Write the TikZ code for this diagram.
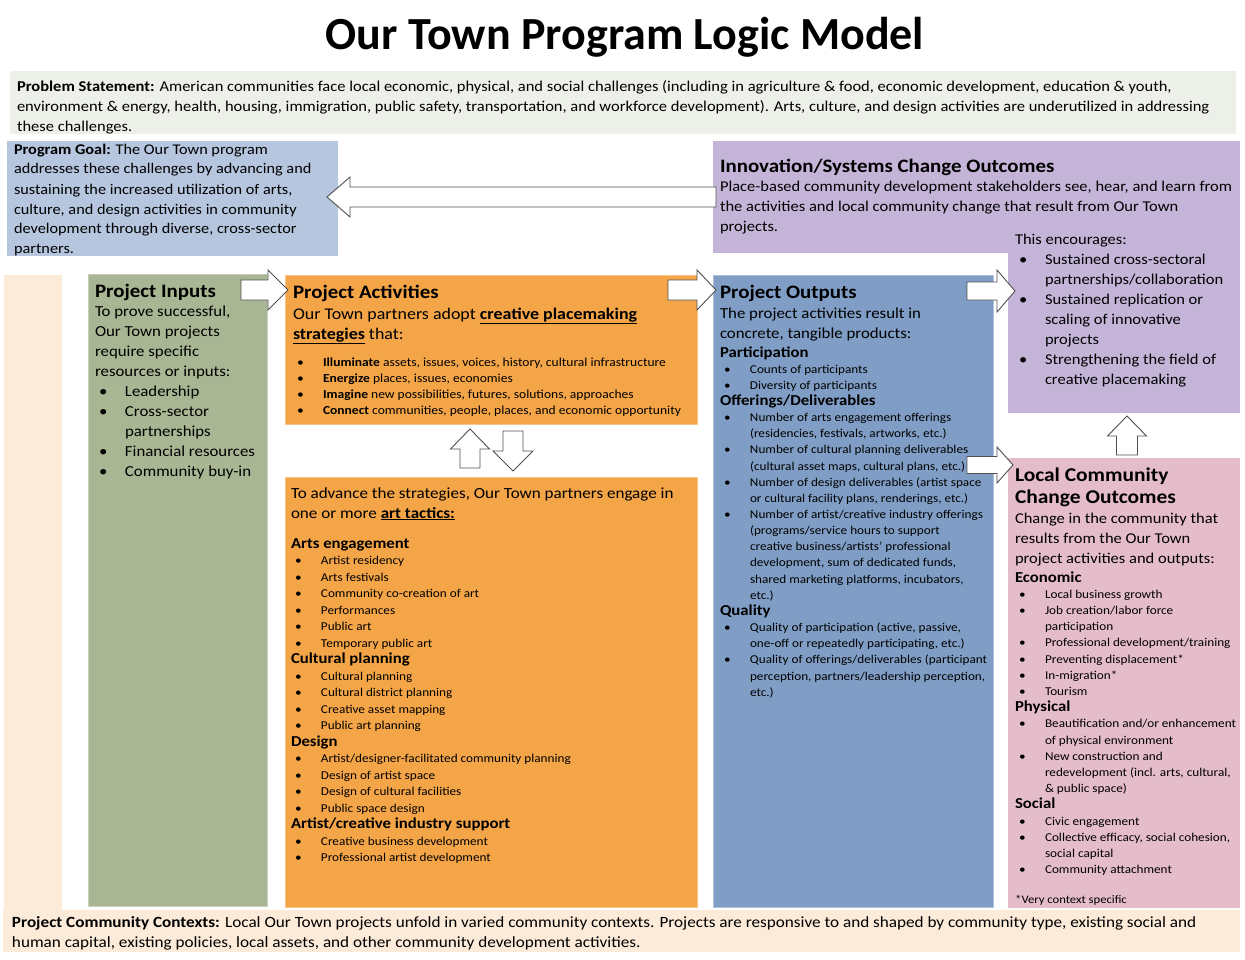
\documentclass[tikz,border=0pt]{standalone}
\usepackage{fontspec}
\setmainfont{Carlito}[FakeStretch=1.1]
\newfontfamily\titlefont{Carlito}
\definecolor{probbg}{HTML}{EDEFE9}
\definecolor{goalbg}{HTML}{B5C6DE}
\definecolor{purp}{HTML}{C4B5D8}
\definecolor{peach}{HTML}{FCEBD9}
\definecolor{sage}{HTML}{A8B693}
\definecolor{orng}{HTML}{F4A548}
\definecolor{bluebx}{HTML}{809EC5}
\definecolor{pinkbx}{HTML}{E5BCCA}
\definecolor{arrowgray}{HTML}{505050}
\newcommand{\bl}{\makebox[30pt][l]{\hspace{4pt}\textbullet}}
\newcommand{\ct}{\hspace*{30pt}}
\newcommand{\fbody}{\fontsize{15}{20}\selectfont}
\newcommand{\fhead}{\fontsize{19}{22}\selectfont\bfseries}
\newcommand{\subh}[1]{{\fontsize{15.2}{16}\selectfont\bfseries #1}}
\newcommand{\harrow}[6]{\draw[blockarrow] (#1,#4-#5) -- (#3,#4-#5) -- (#3,#4-#6) -- (#2,#4) -- (#3,#4+#6) -- (#3,#4+#5) -- (#1,#4+#5) -- cycle;}
\newcommand{\varrow}[6]{\draw[blockarrow] (#1-#5,#2) -- (#1-#5,#4) -- (#1-#6,#4) -- (#1,#3) -- (#1+#6,#4) -- (#1+#5,#4) -- (#1+#5,#2) -- cycle;}
\tikzset{
  box/.style={anchor=north west, inner sep=0pt, outer sep=0pt, draw=none},
  edged/.style={draw=#1!65!white, line width=0.8pt},
  txt/.style={anchor=north west, inner sep=0pt, outer sep=0pt, align=left},
  head/.style={anchor=base west, inner sep=0pt, outer sep=0pt, font=\fhead},
  blockarrow/.style={draw=arrowgray, fill=white, line width=0.9pt, line join=miter},
}
\begin{document}
\begin{tikzpicture}[x=1pt,y=-1pt]
\fill[white] (0,0) rectangle (1245,960);
\useasboundingbox (0,0) rectangle (1245,960);

% title
\node[anchor=base, inner sep=0pt, font=\titlefont\fontsize{46}{50}\selectfont\bfseries] (title) at (625,50) {Our Town Program Logic Model};

% boxes
\node[box, fill=probbg, minimum width=1226pt, minimum height=63pt] (prob) at (10,71) {};
\node[box, fill=goalbg, minimum width=331pt, minimum height=115pt] (goal) at (7,141) {};
\node[box, fill=purp, minimum width=527pt, minimum height=112pt] (innov) at (713,141) {};
\node[box, fill=purp, minimum width=232pt, minimum height=188pt] (innov2) at (1008,225) {};
\node[box, fill=peach, minimum width=58pt, minimum height=636pt] (ctxstrip) at (4,275) {};
\node[box, fill=peach, minimum width=1237pt, minimum height=42pt] (ctx) at (3,910) {};
\node[box, fill=sage, edged=sage, minimum width=179pt, minimum height=632pt] (inputs) at (88,274) {};
\node[box, fill=orng, edged=orng, minimum width=412pt, minimum height=149pt] (activ) at (285,275) {};
\node[box, fill=orng, edged=orng, minimum width=412pt, minimum height=430pt] (tactics) at (285,477) {};
\node[box, fill=bluebx, edged=bluebx, minimum width=280pt, minimum height=632pt] (outputs) at (713,275) {};
\node[box, fill=pinkbx, minimum width=232pt, minimum height=450pt] (local) at (1008,458) {};

% arrows
\harrow{716}{327}{350}{197}{10}{20}
\harrow{241}{288}{268}{290}{10}{20}
\harrow{668}{716}{697}{290}{10}{20}
\harrow{967}{1015}{997}{291}{9}{21}
\harrow{967}{1013}{997}{465}{8.5}{18}
\varrow{1127}{455}{416}{436}{10.5}{19.5}
\varrow{470}{468}{429}{449}{10}{19.5}
\varrow{513}{431}{471}{451}{10}{20}

% problem statement
\node[txt, font=\fbody] (probT) at (17,78) {\strut\textbf{Problem Statement:} American communities face local economic, physical, and social challenges (including in agriculture \& food, economic development, education \& youth,\\ environment \& energy, health, housing, immigration, public safety, transportation, and workforce development). Arts, culture, and design activities are underutilized in addressing\\ these challenges.};

% program goal
\node[txt, font=\fontsize{14.8}{20}\selectfont] (goalT) at (14,140) {\strut\textbf{Program Goal:} The Our Town program\\ addresses these challenges by advancing and\\ sustaining the increased utilization of arts,\\ culture, and design activities in community\\ development through diverse, cross-sector\\ partners.};

% innovation
\node[head] (innovH) at (720,173) {Innovation/Systems Change Outcomes};
\node[txt, font=\fbody] (innovT) at (720,178) {\strut Place-based community development stakeholders see, hear, and learn from\\ the activities and local community change that result from Our Town\\ projects.};
\node[txt, font=\fbody] (encT) at (1015,230) {\strut This encourages:\\ \bl Sustained cross-sectoral\\ \ct partnerships/collaboration\\ \bl Sustained replication or\\ \ct scaling of innovative\\ \ct projects\\ \bl Strengthening the field of\\ \ct creative placemaking};

% inputs
\node[head] (inputsH) at (95,297) {Project Inputs};
\node[txt, font=\fontsize{15.3}{20}\selectfont] (inputsT) at (95,302) {\strut To prove successful,\\ Our Town projects\\ require specific\\ resources or inputs:\\ \bl Leadership\\ \bl Cross-sector\\ \ct partnerships\\ \bl Financial resources\\ \bl Community buy-in};

% activities
\node[head] (activH) at (293,298) {Project Activities};
\node[txt, font=\fontsize{16.3}{20}\selectfont] (activT) at (293,305) {\strut Our Town partners adopt \underline{\textbf{creative placemaking}}\\ \underline{\textbf{strategies}} that:};
\node[txt, font=\fontsize{12.3}{16}\selectfont] (activL) at (293,354.8) {\strut\bl\textbf{Illuminate} assets, issues, voices, history, cultural infrastructure\\ \bl\textbf{Energize} places, issues, economies\\ \bl\textbf{Imagine} new possibilities, futures, solutions, approaches\\ \bl\textbf{Connect} communities, people, places, and economic opportunity};

% tactics
\node[txt, font=\fontsize{15.5}{20}\selectfont] (tactT) at (291,484) {\strut To advance the strategies, Our Town partners engage in\\ one or more \underline{\textbf{art tactics:}}};
\node[txt, font=\fontsize{12}{16.5}\selectfont] (tactL) at (291,536.45) {\strut\subh{Arts engagement}\\ \bl Artist residency\\ \bl Arts festivals\\ \bl Community co-creation of art\\ \bl Performances\\ \bl Public art\\ \bl Temporary public art\\ \subh{Cultural planning}\\ \bl Cultural planning\\ \bl Cultural district planning\\ \bl Creative asset mapping\\ \bl Public art planning\\ \subh{Design}\\ \bl Artist/designer-facilitated community planning\\ \bl Design of artist space\\ \bl Design of cultural facilities\\ \bl Public space design\\ \subh{Artist/creative industry support}\\ \bl Creative business development\\ \bl Professional artist development};

% outputs
\node[head] (outH) at (720,298) {Project Outputs};
\node[txt, font=\fontsize{15.3}{20}\selectfont] (outT) at (720,304) {\strut The project activities result in\\ concrete, tangible products:};
\node[txt, font=\fontsize{12}{16.15}\selectfont] (outL) at (720,345.7) {\strut\subh{Participation}\\ \bl Counts of participants\\ \bl Diversity of participants\\ \subh{Offerings/Deliverables}\\ \bl Number of arts engagement offerings\\ \ct (residencies, festivals, artworks, etc.)\\ \bl Number of cultural planning deliverables\\ \ct (cultural asset maps, cultural plans, etc.)\\ \bl Number of design deliverables (artist space\\ \ct or cultural facility plans, renderings, etc.)\\ \bl Number of artist/creative industry offerings\\ \ct (programs/service hours to support\\ \ct creative business/artists' professional\\ \ct development, sum of dedicated funds,\\ \ct shared marketing platforms, incubators,\\ \ct etc.)\\ \subh{Quality}\\ \bl Quality of participation (active, passive,\\ \ct one-off or repeatedly participating, etc.)\\ \bl Quality of offerings/deliverables (participant\\ \ct perception, partners/leadership perception,\\ \ct etc.)};

% local community
\node[txt, font=\fontsize{19.5}{22}\selectfont\bfseries] (localH) at (1015,465.6) {\strut Local Community\\ Change Outcomes};
\node[txt, font=\fbody] (localT) at (1015,509) {\strut Change in the community that\\ results from the Our Town\\ project activities and outputs:};
\node[txt, font=\fontsize{12}{16.2}\selectfont] (localL) at (1015,570.66) {\strut\subh{Economic}\\ \bl Local business growth\\ \bl Job creation/labor force\\ \ct participation\\ \bl Professional development/training\\ \bl Preventing displacement*\\ \bl In-migration*\\ \bl Tourism\\ \subh{Physical}\\ \bl Beautification and/or enhancement\\ \ct of physical environment\\ \bl New construction and\\ \ct redevelopment (incl. arts, cultural,\\ \ct \& public space)\\ \subh{Social}\\ \bl Civic engagement\\ \bl Collective efficacy, social cohesion,\\ \ct social capital\\ \bl Community attachment};
\node[anchor=base west, inner sep=0pt, font=\fontsize{11.5}{14}\selectfont] (localN) at (1015,903) {*Very context specific};

% contexts
\node[txt, font=\fontsize{15.6}{20}\selectfont] (ctxT) at (12,913) {\strut\textbf{Project Community Contexts:} Local Our Town projects unfold in varied community contexts. Projects are responsive to and shaped by community type, existing social and\\ human capital, existing policies, local assets, and other community development activities.};
\end{tikzpicture}
\end{document}
